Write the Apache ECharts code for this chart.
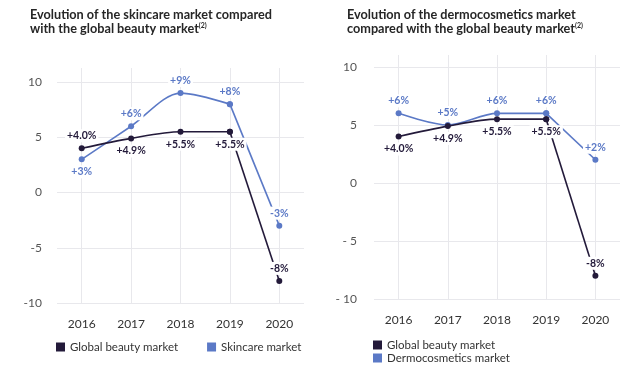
<!DOCTYPE html>
<html><head><meta charset="utf-8">
<script src="https://cdn.jsdelivr.net/npm/echarts@6/dist/echarts.min.js"></script>
<style>html,body{margin:0;padding:0;background:#fff}#c{width:644px;height:373px}</style>
</head><body><div id="c"></div>
<script>
const years = ['2016','2017','2018','2019','2020'];
const globalBeauty = [4.0, 4.9, 5.5, 5.5, -8];
const globalLabels = ['+4.0%','+4.9%','+5.5%','+5.5%','-8%'];
const skincare = [3, 6, 9, 8, -3];
const skincareLabels = ['+3%','+6%','+9%','+8%','-3%'];
const dermo = [6, 5, 6, 6, 2];
const dermoLabels = ['+6%','+5%','+6%','+6%','+2%'];
const leftGlobalPos = ['top','bottom','bottom','bottom','top'];
const leftSkinPos = ['bottom','top','top','top','top'];
const rightGlobalPos = ['bottom','bottom','bottom','bottom','top'];
const rightDermoPos = ['top','top','top','top','top'];

const DARK = '#231a3a', BLUE = '#5b79c6', GRID = '#e8e8ec', AXT = '#555555';
const FONT = 'Lato';

// Each market line: a smooth part (2016-2019) and a straight drop (2019-2020), both from the same arrays.
function mkSeries(name, vals, labels, pos, color, idx, z) {
  const last = vals.length - 1;
  const base = {
    name, type: 'line', xAxisIndex: idx, yAxisIndex: idx, z,
    symbol: 'circle', symbolSize: 6,
    lineStyle: { color, width: 1.6 }, itemStyle: { color },
    label: { color, fontFamily: FONT, fontSize: 10.5, fontWeight: 'bold',
      backgroundColor: '#fff', padding: [1, 2], distance: 3 },
    emphasis: { disabled: true }
  };
  const smoothPart = Object.assign({}, base, {
    smooth: 0.3,
    data: vals.map((v, i) => i === last ? '-' : ({
      value: v, label: { show: true, position: pos[i], formatter: labels[i] } }))
  });
  const dropPart = Object.assign({}, base, {
    smooth: 0.1,
    data: vals.map((v, i) => i < last - 1 ? '-' : ({
      value: v, label: { show: i === last, position: pos[i], formatter: labels[i] } }))
  });
  return [smoothPart, dropPart];
}

function yAxis(idx, max, fmt) {
  return {
    type: 'value', gridIndex: idx, min: -10, max, interval: 5,
    axisLine: { show: false }, axisTick: { show: false },
    axisLabel: { color: AXT, fontFamily: FONT, fontSize: 12, margin: idx === 0 ? 15 : 17,
      showMaxLabel: false, formatter: fmt },
    splitLine: { show: true, showMaxLine: false, lineStyle: { color: GRID, width: 1 } }
  };
}
function xAxis(idx) {
  return {
    type: 'category', gridIndex: idx, data: years, boundaryGap: true,
    axisLine: { show: false }, axisTick: { show: false },
    axisLabel: { color: '#333', fontFamily: FONT, fontSize: 12, margin: 15 },
    splitLine: { show: true, alignWithLabel: true, lineStyle: { color: GRID, width: 1 } }
  };
}

const titleStyle = { fontFamily: FONT, fontSize: 12.7, fontWeight: 'bold', color: '#262626', lineHeight: 14,
  rich: { s: { fontSize: 7, fontWeight: 'bold', color: '#262626', verticalAlign: 'top', padding: [0,0,6,0] } } };

const chart = echarts.init(document.getElementById('c'));
chart.setOption({
  backgroundColor: '#fff',
  animation: false,
  title: [
    { left: 30, top: 8, padding: 0, text: 'Evolution of the skincare market compared\nwith the global beauty market{s|(2)}', textStyle: titleStyle },
    { left: 347, top: 8, padding: 0, text: 'Evolution of the dermocosmetics market\ncompared with the global beauty market{s|(2)}', textStyle: titleStyle }
  ],
  legend: [
    { left: 56, top: 341, padding: 0, itemWidth: 9, itemHeight: 9, itemGap: 29, icon: 'rect',
      textStyle: { fontFamily: FONT, fontSize: 11.5, color: '#333' },
      data: [{ name: 'Global beauty market', itemStyle: { color: DARK } }, { name: 'Skincare market', itemStyle: { color: BLUE } }] },
    { left: 373, top: 339, padding: 0, orient: 'vertical', itemWidth: 9, itemHeight: 9, itemGap: 1, icon: 'rect',
      textStyle: { fontFamily: FONT, fontSize: 11.5, color: '#333' },
      data: [{ name: 'Global beauty market ', itemStyle: { color: DARK } }, { name: 'Dermocosmetics market', itemStyle: { color: BLUE } }] }
  ],
  grid: [
    { left: 57, right: 340, top: 68, bottom: 70 },
    { left: 374, right: 24, top: 55, bottom: 74 }
  ],
  xAxis: [xAxis(0), xAxis(1)],
  yAxis: [yAxis(0, 11.27, v => String(v)), yAxis(1, 11.03, v => v < 0 ? '- ' + Math.abs(v) : String(v))],
  series: [].concat(
    mkSeries('Global beauty market', globalBeauty, globalLabels, leftGlobalPos, DARK, 0, 3),
    mkSeries('Skincare market', skincare, skincareLabels, leftSkinPos, BLUE, 0, 2),
    mkSeries('Global beauty market ', globalBeauty, globalLabels, rightGlobalPos, DARK, 1, 3),
    mkSeries('Dermocosmetics market', dermo, dermoLabels, rightDermoPos, BLUE, 1, 2)
  )
});
</script></body></html>
